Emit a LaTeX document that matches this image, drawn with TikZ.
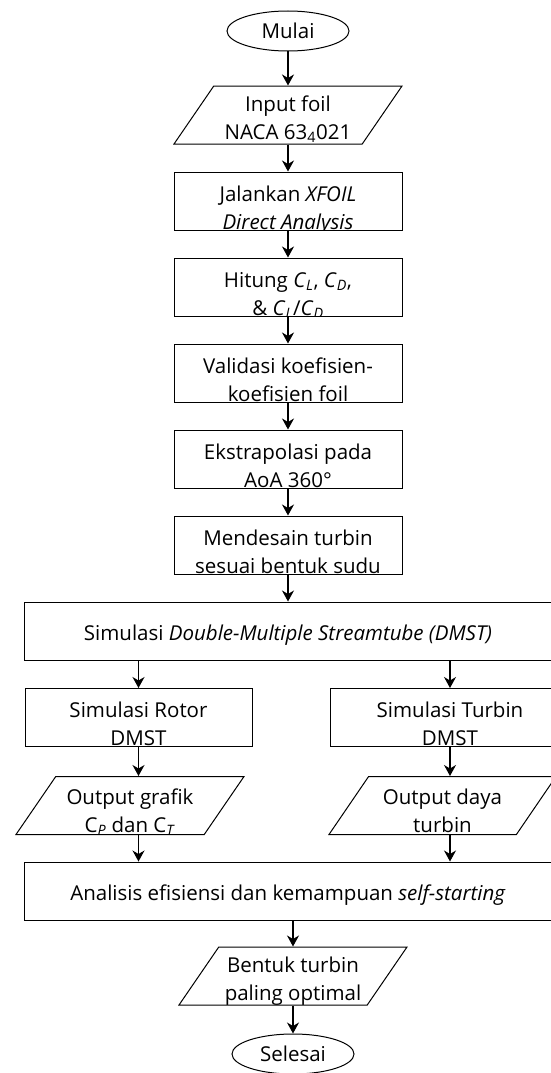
\documentclass[tikz,border=0pt]{standalone}
\usepackage{fontspec}
\setmainfont{Open Sans}
\usetikzlibrary{shapes.geometric,positioning,arrows.meta}

\begin{document}
\begin{tikzpicture}[x=1pt,y=-1pt,node distance=86pt,on grid,
	font=\fontsize{20.5}{28}\selectfont,
	>={Stealth[length=11pt,width=12pt,inset=3.5pt]},
	geser/.store in=\geser, geser=-8.5pt,
	isi/.style={path picture={\node[rectangle,draw=none,inner sep=0pt,minimum size=0pt,align=center,yshift=\geser]
		at (path picture bounding box.center) {\strut#1\strut};}},
	terminal/.style={ellipse,draw,line width=1pt,minimum width=122pt,minimum height=40pt,inner sep=0pt},
	proses/.style={rectangle,draw,line width=1pt,minimum width=228pt,minimum height=58pt,inner sep=0pt,isi={#1}},
	lebar/.style={proses={#1},minimum width=528pt,geser=-4pt},
	data/.style={trapezium,trapezium left angle=75,trapezium right angle=105,trapezium stretches=true,
		draw,line width=1pt,minimum width=228pt,minimum height=58pt,inner sep=3pt,geser=-5pt,isi={#1}},
	panah/.style={->,line width=1.3pt}]

	\useasboundingbox (0,0) rectangle (550,1073);

	\node[terminal] (mulai) at (288,31) {Mulai};
	\node[data={Input foil\\NACA 63\textsubscript{4}021}] (input) [below=84pt of mulai] {};
	\node[proses={Jalankan \textit{XFOIL}\\\textit{Direct Analysis}}] (xfoil) [below=of input] {};
	\node[proses={Hitung \textit{C}\textsubscript{\textit{L}}, \textit{C}\textsubscript{\textit{D}},\\\& \textit{C}\textsubscript{\textit{L}}/\textit{C}\textsubscript{\textit{D}}}] (hitung) [below=of xfoil] {};
	\node[proses={Validasi koefisien-\\koefisien foil}] (validasi) [below=of hitung] {};
	\node[proses={Ekstrapolasi pada\\AoA 360°}] (ekstra) [below=of validasi] {};
	\node[proses={Mendesain turbin\\sesuai bentuk sudu}] (desain) [below=of ekstra] {};
	\node[lebar={Simulasi \textit{Double-Multiple Streamtube (DMST)}}] (dmst) [below=of desain] {};

	\node[proses={Simulasi Rotor\\DMST},minimum width=227pt] (rotor) [below left=86.5pt and 149.5pt of dmst] {};
	\node[proses={Simulasi Turbin\\DMST},minimum width=240pt] (turbin) [below right=86.5pt and 162pt of dmst] {};
	\node[data={Output grafik\\C\textsubscript{\textit{P}} dan C\textsubscript{\textit{T}}},geser=-7.5pt] (grafik) [below left=88pt and 8.5pt of rotor] {};
	\node[data={Output daya\\turbin},minimum width=227pt,geser=-7.5pt] (daya) [below left=88pt and 7.5pt of turbin] {};

	\node[lebar={Analisis efisiensi dan kemampuan \textit{self-starting}}] (analisis) [below right=85.5pt and 158pt of grafik] {};
	\node[data={Bentuk turbin\\paling optimal}] (bentuk) [below right=85pt and 5pt of analisis] {};
	\node[terminal] (selesai) [below=78pt of bentuk] {Selesai};

	\draw[panah] (mulai) -- (input);
	\draw[panah] (input) -- (xfoil);
	\draw[panah] (xfoil) -- (hitung);
	\draw[panah] (hitung) -- (validasi);
	\draw[panah] (validasi) -- (ekstra);
	\draw[panah] (ekstra) -- (desain);
	\draw[panah] (desain) -- (dmst);
	\draw[panah] (dmst.south -| rotor) -- (rotor);
	\draw[panah] (dmst.south -| turbin) -- (turbin);
	\draw[panah] (rotor) -- (rotor |- grafik.north);
	\draw[panah] (turbin) -- (turbin |- daya.north);
	\draw[panah] (rotor |- grafik.south) -- (rotor |- analisis.north);
	\draw[panah] (turbin |- daya.south) -- (turbin |- analisis.north);
	\draw[panah] (analisis.south -| bentuk) -- (bentuk);
	\draw[panah] (bentuk) -- (selesai);
\end{tikzpicture}
\end{document}
